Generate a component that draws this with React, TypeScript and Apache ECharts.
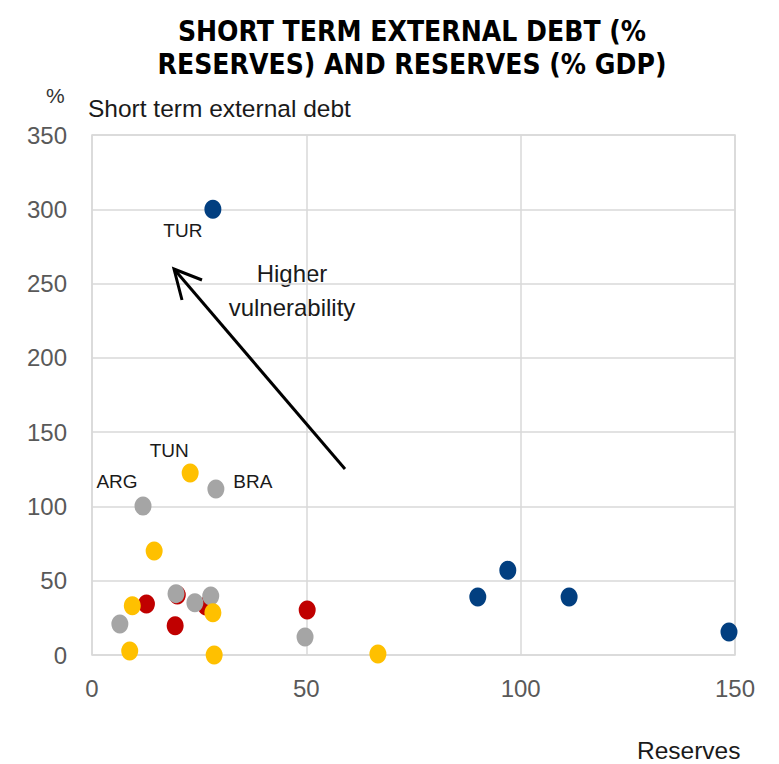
import React, { useEffect, useRef } from "react";
import * as echarts from "echarts";

// [reserves (% GDP), short term external debt (% reserves)]
const blueSeries: [number, number][] = [
  [28.2, 300],
  [90, 39],
  [97, 57],
  [111.3, 39],
  [148.6, 15.5],
];
const redSeries: [number, number][] = [
  [50.2, 30.3],
  [12.7, 34.3],
  [19.4, 19.7],
  [19.9, 40.4],
  [26.6, 33],
];
const graySeries: [number, number][] = [
  [11.9, 100.3],
  [28.9, 111.7],
  [6.5, 20.9],
  [19.6, 41.3],
  [24, 35.2],
  [27.7, 39.7],
  [49.7, 12.1],
];
const yellowSeries: [number, number][] = [
  [22.9, 122.5],
  [14.5, 70],
  [9.4, 33.2],
  [28.2, 28.5],
  [8.8, 2.7],
  [28.5, 0],
  [66.7, 0.7],
];
// labelled points
const pointLabels: { series: string; index: number; text: string; offset: [number, number] }[] = [
  { series: "blue", index: 0, text: "TUR", offset: [-30, 21] },
  { series: "yellow", index: 0, text: "TUN", offset: [-21, -23] },
  { series: "gray", index: 0, text: "ARG", offset: [-26, -24] },
  { series: "gray", index: 1, text: "BRA", offset: [37, -8] },
];
const xTicks = [0, 50, 100, 150];
const yTicks = [0, 50, 100, 150, 200, 250, 300, 350];

const FONT = "'Liberation Sans', Arial, sans-serif";
const TITLE_FONT = "'DejaVu Sans Condensed', 'Liberation Sans Narrow', 'Arial Narrow', sans-serif";

function buildData(key: string, arr: [number, number][]) {
  return arr.map((p, i) => {
    const lab = pointLabels.find((l) => l.series === key && l.index === i);
    if (!lab) return { value: p };
    return {
      value: p,
      label: {
        show: true,
        formatter: lab.text,
        position: "inside",
        offset: lab.offset,
        color: "#1a1a1a",
        fontSize: 19,
        fontFamily: FONT,
      },
    };
  });
}

export default function App() {
  const ref = useRef<HTMLDivElement>(null);
  useEffect(() => {
    if (!ref.current) return;
    const chart = echarts.init(ref.current, null, { renderer: "svg" });
    const sym = [17, 19];
    const mk = (key: string, arr: [number, number][], color: string, z: number) => ({
      type: "scatter",
      name: key,
      data: buildData(key, arr),
      symbol: "circle",
      symbolSize: sym,
      itemStyle: { color, opacity: 1 },
      z,
      emphasis: { disabled: true },
    });
    chart.setOption({
      animation: false,
      title: {
        text: "SHORT TERM EXTERNAL DEBT (%\nRESERVES) AND RESERVES (% GDP)",
        left: 407,
        top: 10,
        textAlign: "center",
        textStyle: {
          fontFamily: TITLE_FONT,
          fontWeight: "bold",
          fontSize: 28,
          lineHeight: 33,
          color: "#000",
        },
      },
      grid: { left: 92, right: 44, top: 135, bottom: 109, containLabel: false },
      xAxis: {
        type: "value",
        min: 0,
        max: 150,
        interval: 50,
        axisLine: { show: false },
        axisTick: { show: false },
        splitLine: { show: true, lineStyle: { color: "#d9d9d9", width: 1.5 } },
        axisLabel: {
          color: "#595959",
          fontSize: 24,
          fontFamily: FONT,
          margin: 21,
          formatter: (v: number) => (xTicks.includes(v) ? String(v) : ""),
        },
      },
      yAxis: {
        type: "value",
        min: 0,
        max: 350,
        interval: 50,
        axisLine: { show: false },
        axisTick: { show: false },
        splitLine: { show: true, lineStyle: { color: "#d9d9d9", width: 1.5 } },
        axisLabel: {
          color: "#595959",
          fontSize: 24,
          fontFamily: FONT,
          margin: 25,
          formatter: (v: number) => (yTicks.includes(v) ? String(v) : ""),
        },
      },
      series: [
        mk("red", redSeries, "#c00000", 2),
        mk("gray", graySeries, "#a5a5a5", 3),
        mk("yellow", yellowSeries, "#ffc000", 4),
        mk("blue", blueSeries, "#023f80", 5),
      ],
      graphic: [
        {
          type: "rect",
          shape: { x: 92, y: 135, width: 643, height: 520 },
          style: { fill: "none", stroke: "#d9d9d9", lineWidth: 1.5 },
          silent: true,
          z: 0,
        },
        {
          type: "text",
          left: 46,
          top: 85,
          style: { text: "%", fontSize: 21, fontFamily: FONT, fill: "#333" },
        },
        {
          type: "text",
          left: 88,
          top: 96,
          style: { text: "Short term external debt", fontSize: 24.5, fontFamily: FONT, fill: "#1a1a1a" },
        },
        {
          type: "text",
          left: 637,
          top: 738,
          style: { text: "Reserves", fontSize: 24.5, fontFamily: FONT, fill: "#1a1a1a" },
        },
        {
          type: "text",
          x: 292,
          y: 290,
          style: {
            text: "Higher\nvulnerability",
            fontSize: 24,
            lineHeight: 34,
            fontFamily: FONT,
            fill: "#1a1a1a",
            align: "center",
            verticalAlign: "middle",
          },
        },
        {
          type: "line",
          shape: { x1: 345, y1: 469, x2: 174, y2: 269 },
          style: { stroke: "#000", lineWidth: 3 },
          z: 10,
        },
        {
          type: "polyline",
          shape: { points: [[202, 280], [174, 269], [182, 300]] },
          style: { stroke: "#000", lineWidth: 3, fill: "none" },
          z: 10,
        },
      ],
    });
    return () => chart.dispose();
  }, []);
  return (
    <div
      ref={ref}
      style={{ position: "fixed", left: 0, top: 0, width: 779, height: 764, background: "#fff" }}
    />
  );
}
